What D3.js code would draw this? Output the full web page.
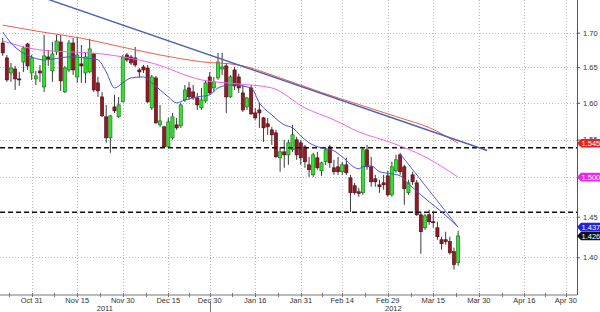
<!DOCTYPE html>
<html>
<head>
<meta charset="utf-8">
<script src="https://cdn.jsdelivr.net/npm/d3@7"></script>
<style>
  body { margin: 0; background: #fff; }
  svg { display: block; }
  text { font-family: "Liberation Sans", Arial, sans-serif; }
</style>
</head>
<body>
<svg width="600" height="312"></svg>
<script>
// trading calendar (weekdays, one holiday dropped)
const firstDay = "2011-10-20";
const lastDay = "2012-05-02";
const skipDays = ["2011-12-26"];

// daily candles from 2011-10-20 to 2012-03-23
const opens = [1.6849,1.6633,1.6418,1.6475,1.6334,1.6575,1.6835,1.6418,1.6334,1.6447,
  1.6221,1.6647,1.6447,1.6719,1.6864,1.6151,1.6461,1.6849,1.6362,1.6547,
  1.6418,1.6433,1.6691,1.6278,1.6082,1.5807,1.5523,1.5943,1.5807,1.6013,
  1.6676,1.6647,1.6633,1.6461,1.6504,1.6489,1.5930,1.6348,1.5698,1.5671,
  1.5403,1.5523,1.5698,1.5685,1.6040,1.6207,1.6151,1.6068,1.5930,1.6026,
  1.6362,1.6207,1.6348,1.6475,1.6518,1.6082,1.6461,1.6362,1.6137,1.5943,
  1.6207,1.5861,1.5902,1.5793,1.5712,1.5630,1.5590,1.5257,1.5336,1.5296,
  1.5363,1.5496,1.5456,1.5402,1.5165,1.5034,1.5257,1.5087,1.5205,1.5402,
  1.5126,1.5139,1.5074,1.5165,1.4995,1.4893,1.4816,1.4803,1.5363,1.5139,
  1.4983,1.4905,1.4931,1.5021,1.4777,1.5087,1.5296,1.5139,1.4803,1.5034,
  1.4931,1.4524,1.4362,1.4524,1.4437,1.4362,1.4214,1.4214,1.4190,1.4068,
  1.3935];
const highs = [1.6922,1.6676,1.6561,1.6518,1.6433,1.6806,1.6849,1.6676,1.6447,1.6532,
  1.6966,1.6748,1.6864,1.6966,1.6966,1.6518,1.6893,1.6922,1.6937,1.6820,
  1.6705,1.6908,1.6705,1.6362,1.6151,1.5971,1.5834,1.6110,1.6082,1.6676,
  1.6705,1.6676,1.6791,1.6489,1.6532,1.6532,1.6390,1.6376,1.5971,1.5685,
  1.5793,1.5861,1.5793,1.5999,1.6249,1.6292,1.6249,1.6137,1.6207,1.6320,
  1.6433,1.6362,1.6705,1.6705,1.6561,1.6390,1.6504,1.6404,1.6249,1.6082,
  1.6249,1.5930,1.5999,1.5807,1.5793,1.5671,1.5630,1.5402,1.5496,1.5496,
  1.5698,1.5536,1.5496,1.5429,1.5270,1.5323,1.5336,1.5205,1.5402,1.5429,
  1.5231,1.5270,1.5205,1.5257,1.5034,1.4931,1.4867,1.5389,1.5429,1.5270,
  1.5034,1.4970,1.5034,1.5087,1.5205,1.5296,1.5323,1.5165,1.4970,1.5074,
  1.4970,1.4562,1.4537,1.4587,1.4562,1.4437,1.4251,1.4313,1.4251,1.4117,
  1.4325];
const lows = [1.6662,1.6292,1.6292,1.6179,1.6235,1.6433,1.6461,1.6320,1.6249,1.6292,
  1.6151,1.6518,1.6292,1.6676,1.6165,1.6137,1.6433,1.6390,1.6278,1.6278,
  1.6278,1.6418,1.6151,1.6082,1.5807,1.5456,1.5323,1.5861,1.5793,1.6013,
  1.6575,1.6532,1.6504,1.6348,1.6418,1.5999,1.5902,1.5712,1.5671,1.5389,
  1.5389,1.5496,1.5630,1.5657,1.6013,1.6040,1.6040,1.5902,1.5902,1.5999,
  1.6110,1.6151,1.6320,1.6390,1.5861,1.6068,1.6179,1.6137,1.5875,1.5902,
  1.5834,1.5766,1.5657,1.5469,1.5563,1.5429,1.5257,1.5074,1.5126,1.5165,
  1.5336,1.5231,1.5165,1.5126,1.5008,1.5008,1.5100,1.5021,1.5165,1.5126,
  1.5034,1.5034,1.5034,1.5034,1.4561,1.4777,1.4751,1.4777,1.5100,1.4880,
  1.4880,1.4803,1.4841,1.4751,1.4751,1.5061,1.5034,1.4650,1.4777,1.4905,
  1.4510,1.4043,1.4337,1.4399,1.4362,1.4214,1.4092,1.4153,1.4031,1.3851,
  1.3899];
const closes = [1.6705,1.6320,1.6489,1.6334,1.6320,1.6777,1.6518,1.6633,1.6376,1.6418,
  1.6662,1.6618,1.6691,1.6878,1.6306,1.6489,1.6849,1.6461,1.6676,1.6518,
  1.6647,1.6763,1.6179,1.6165,1.5821,1.5523,1.5821,1.5889,1.5971,1.6647,
  1.6604,1.6561,1.6532,1.6433,1.6461,1.6013,1.6362,1.5725,1.5752,1.5403,
  1.5739,1.5807,1.5657,1.5971,1.6179,1.6082,1.6068,1.5971,1.6040,1.6278,
  1.6137,1.6292,1.6575,1.6504,1.6082,1.6362,1.6235,1.6207,1.5902,1.6068,
  1.5848,1.5793,1.5861,1.5657,1.5671,1.5563,1.5270,1.5336,1.5296,1.5456,
  1.5563,1.5296,1.5257,1.5205,1.5100,1.5296,1.5126,1.5191,1.5363,1.5191,
  1.5074,1.5074,1.5165,1.5061,1.4803,1.4803,1.4796,1.5363,1.5139,1.4944,
  1.4944,1.4880,1.4905,1.4777,1.5139,1.5231,1.5074,1.4854,1.4931,1.4944,
  1.4524,1.4313,1.4511,1.4437,1.4424,1.4251,1.4165,1.4190,1.4055,1.3911,
  1.4260];

// moving averages
const maLongDates = ["2011-10-20","2011-11-02","2011-11-16","2011-11-29","2011-12-13","2011-12-28",
  "2012-01-10","2012-01-24","2012-02-07","2012-02-20","2012-03-05","2012-03-14","2012-03-23"];
const maLongValues = [1.7111,1.7015,1.6919,1.6801,1.6676,1.6578,1.6532,1.6348,1.6144,1.5977,1.5793,1.5661,1.5451];

const maMidDates = ["2011-10-20","2011-11-02","2011-11-23","2011-12-09","2011-12-28","2012-01-10",
  "2012-01-20","2012-02-01","2012-02-10","2012-02-20","2012-03-01","2012-03-13","2012-03-23"];
const maMidValues = [1.6878,1.6748,1.6691,1.6561,1.6320,1.6263,1.6207,1.5930,1.5766,1.5603,1.5456,1.5270,1.5005];

const maShortDates = ["2011-10-20","2011-10-24","2011-10-31","2011-11-03","2011-11-11","2011-11-17",
  "2011-11-22","2011-11-24","2011-11-28","2011-11-30","2011-12-02","2011-12-07","2011-12-09",
  "2011-12-15","2011-12-19","2011-12-21","2011-12-27","2011-12-30","2012-01-03","2012-01-06",
  "2012-01-13","2012-01-17","2012-01-20","2012-01-25","2012-01-27","2012-01-31","2012-02-02",
  "2012-02-07","2012-02-10","2012-02-14","2012-02-20","2012-02-21","2012-02-23","2012-02-27",
  "2012-03-01","2012-03-05","2012-03-07","2012-03-12","2012-03-14","2012-03-19","2012-03-23"];
const maShortValues = [1.7010,1.6849,1.6647,1.6604,1.6647,1.6633,1.6604,1.6433,1.6207,1.6278,
  1.6348,1.6362,1.6278,1.6082,1.5999,1.6040,1.6082,1.6110,1.6207,1.6249,
  1.6207,1.5999,1.5834,1.5698,1.5657,1.5549,1.5456,1.5389,1.5350,1.5270,
  1.5113,1.5139,1.5152,1.5074,1.5048,1.5021,1.4918,1.4777,1.4688,1.4562,1.4370];

// drawn trend lines and levels
const trendMainDates = ["2011-10-20","2012-04-03"];
const trendMainValues = [1.7735,1.5354];
const trendShortDates = ["2012-03-05","2012-03-23"];
const trendShortValues = [1.5309,1.4370];
const levels = [1.5392,1.4556];

// right-hand value tags
const tagValues = [1.5451,1.5005,1.437,1.426];
const tagLabels = ["1.5451","1.5005","1.437","1.426"];
const tagColors = ["#e8231f","#e62ae6","#2424d8","#111111"];

// axes
const yTicks = [1.40,1.45,1.50,1.55,1.60,1.65,1.70];
const xLabelDates = ["2011-10-31","2011-11-15","2011-11-30","2011-12-15","2011-12-30","2012-01-16",
  "2012-01-31","2012-02-14","2012-02-29","2012-03-15","2012-03-30","2012-04-16","2012-04-30"];
const yearBreak = "2011-12-30";
const years = ["2011","2012"];

const svg = d3.select("svg");
const plotRight = 577;
const plotBottom = 295;

const parse = d3.timeParse("%Y-%m-%d");
const fmt = d3.timeFormat("%Y-%m-%d");
const days = d3.timeDay
  .range(parse(firstDay), d3.timeDay.offset(parse(lastDay), 1))
  .filter(d => d.getDay() % 6 !== 0)
  .map(fmt)
  .filter(d => !skipDays.includes(d));

const x = d3.scalePoint().domain(days).range([2.72, 574.04]);
const y = d3.scaleLog().domain([1.3551, 1.7487]).range([plotBottom, 0]);

const candles = closes.map((c, i) => ({
  date: days[i], o: opens[i], h: highs[i], l: lows[i], c: c
}));

// grid
const grid = svg.append("g")
  .attr("stroke", "#bdbdbd")
  .attr("stroke-dasharray", "1,2");

grid.selectAll("line.h")
  .data(yTicks)
  .join("line")
  .attr("x1", 0)
  .attr("x2", plotRight)
  .attr("y1", d => Math.round(y(d)) + 0.5)
  .attr("y2", d => Math.round(y(d)) + 0.5);

grid.selectAll("line.v")
  .data(xLabelDates)
  .join("line")
  .attr("x1", d => Math.round(x(d)) + 0.5)
  .attr("x2", d => Math.round(x(d)) + 0.5)
  .attr("y1", 0)
  .attr("y2", plotBottom);

// candles
const cg = svg.append("g");

cg.selectAll("line")
  .data(candles)
  .join("line")
  .attr("x1", d => x(d.date))
  .attr("x2", d => x(d.date))
  .attr("y1", d => y(d.h))
  .attr("y2", d => y(d.l))
  .attr("stroke", "#3a3a3a")
  .attr("stroke-width", 1);

cg.selectAll("rect")
  .data(candles)
  .join("rect")
  .attr("x", d => x(d.date) - 1.6)
  .attr("width", 3.2)
  .attr("y", d => y(Math.max(d.o, d.c)))
  .attr("height", d => Math.max(1, Math.abs(y(d.o) - y(d.c))))
  .attr("fill", d => (d.c >= d.o ? "#2fe32f" : "#8e1b26"))
  .attr("stroke", d => (d.c >= d.o ? "#0f6a0f" : "#4a0a10"))
  .attr("stroke-width", 0.6);

// levels
svg.append("g")
  .selectAll("line")
  .data(levels)
  .join("line")
  .attr("x1", 0)
  .attr("x2", plotRight)
  .attr("y1", d => y(d))
  .attr("y2", d => y(d))
  .attr("stroke", "#111")
  .attr("stroke-width", 1.5)
  .attr("stroke-dasharray", "5,3");

// moving averages and trend lines
const line = d3.line()
  .x(d => x(d[0]))
  .y(d => y(d[1]));

const series = [
  { dates: maLongDates, values: maLongValues, color: "#e8604e", width: 1, curve: d3.curveMonotoneX },
  { dates: maMidDates, values: maMidValues, color: "#f064f0", width: 1, curve: d3.curveMonotoneX },
  { dates: maShortDates, values: maShortValues, color: "#4454dc", width: 1, curve: d3.curveMonotoneX },
  { dates: trendMainDates, values: trendMainValues, color: "#5060b0", width: 1.4, curve: d3.curveLinear },
  { dates: trendShortDates, values: trendShortValues, color: "#5a64d0", width: 1, curve: d3.curveLinear }
];

svg.append("g")
  .selectAll("path")
  .data(series)
  .join("path")
  .attr("fill", "none")
  .attr("stroke", d => d.color)
  .attr("stroke-width", d => d.width)
  .attr("d", d => line.curve(d.curve)(d.dates.map((t, i) => [t, d.values[i]])));

// x axis
const xAxisG = svg.append("g")
  .attr("transform", `translate(0, ${plotBottom})`);

xAxisG.append("line")
  .attr("x1", 0)
  .attr("x2", plotRight)
  .attr("stroke", "#777");

const labelX = xLabelDates.map(d => x(d));
const step = labelX[1] - labelX[0];
const minorX = [labelX[0] - step / 2].concat(
  labelX.slice(1).map((v, i) => (v + labelX[i]) / 2)
);

xAxisG.selectAll("line.tick")
  .data(labelX.concat(minorX))
  .join("line")
  .attr("x1", d => Math.round(d) + 0.5)
  .attr("x2", d => Math.round(d) + 0.5)
  .attr("y1", -2)
  .attr("y2", 2)
  .attr("stroke", "#777");

xAxisG.selectAll("text.lab")
  .data(xLabelDates)
  .join("text")
  .attr("x", d => x(d))
  .attr("y", 7.6)
  .attr("text-anchor", "middle")
  .attr("font-size", 7.5)
  .attr("fill", "#333")
  .text(d => d3.timeFormat("%b %d")(parse(d)));

const xBreak = x(yearBreak);
xAxisG.append("line")
  .attr("x1", Math.round(xBreak) + 0.5)
  .attr("x2", Math.round(xBreak) + 0.5)
  .attr("y1", 6)
  .attr("y2", 17)
  .attr("stroke", "#777");

xAxisG.selectAll("text.year")
  .data(years)
  .join("text")
  .attr("x", (d, i) => (i === 0 ? xBreak / 2 : (xBreak + plotRight) / 2))
  .attr("y", 15.5)
  .attr("text-anchor", "middle")
  .attr("font-size", 7.5)
  .attr("fill", "#333")
  .text(d => d);

// y axis
const yAxisG = svg.append("g")
  .attr("transform", `translate(${plotRight}, 0)`)
  .call(d3.axisRight(y)
    .tickValues(yTicks)
    .tickFormat(d3.format(".2f"))
    .tickSize(3)
    .tickSizeOuter(0)
    .tickPadding(3));

yAxisG.select(".domain").attr("stroke", "#555").attr("d", `M0.5,0V${plotBottom}`);
yAxisG.selectAll(".tick line").attr("stroke", "#555");
yAxisG.selectAll(".tick text")
  .attr("font-size", 7.5)
  .attr("font-family", "Liberation Sans, Arial, sans-serif")
  .attr("fill", "#333");

// value tags
const tags = svg.append("g")
  .selectAll("g")
  .data(tagValues)
  .join("g")
  .attr("transform", d => `translate(${plotRight}, ${y(d)})`);

tags.append("path")
  .attr("d", "M0,0L4,-4.3H30V4.3H4Z")
  .attr("fill", (d, i) => tagColors[i]);

tags.append("text")
  .attr("x", 4.5)
  .attr("y", 2.7)
  .attr("font-size", 7.5)
  .attr("fill", "#fff")
  .text((d, i) => tagLabels[i]);
</script>
</body>
</html>
